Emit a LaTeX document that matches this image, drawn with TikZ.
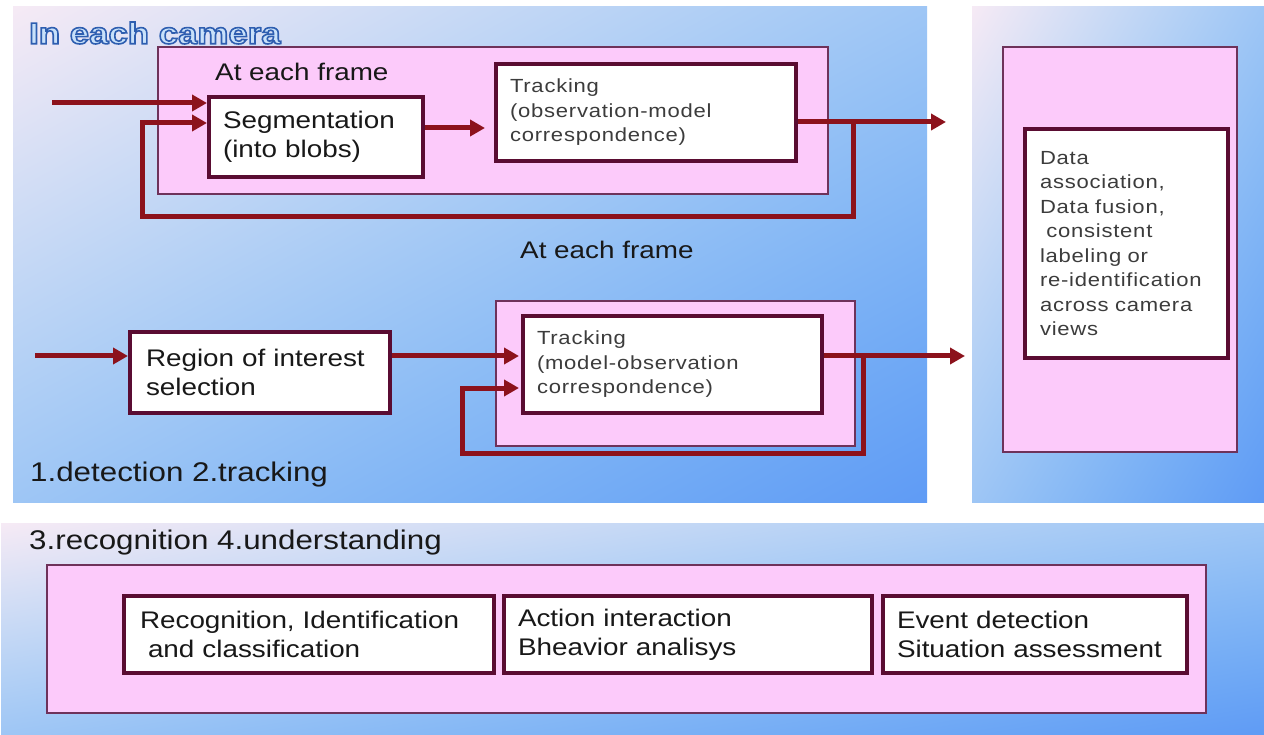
\documentclass[tikz,border=0pt]{standalone}
\usepackage{fontspec}
\setmainfont{Liberation Sans}[FakeStretch=1.16]
\newfontfamily\thinfont{Liberation Sans}[FakeStretch=1.16, LetterSpace=4]
\usetikzlibrary{arrows.meta}

\definecolor{pinkfill}{RGB}{252,202,250}
\definecolor{pinkline}{RGB}{110,50,90}
\definecolor{boxline}{RGB}{90,12,50}
\definecolor{flowred}{RGB}{140,18,28}
\definecolor{ink}{RGB}{24,24,24}
\definecolor{softink}{RGB}{60,60,60}
\definecolor{titlefill}{RGB}{200,225,250}

% outlined lettering: fill and stroke the glyphs (stroke in a mid blue)
\newcommand{\outlined}[1]{%
  \special{pdf:literal direct 2 Tr 1.6 w 0.18 0.37 0.69 RG}#1\special{pdf:literal direct 0 Tr}}

% diagonal background: pale lavender at the top-left corner,
% light blue along the anti-diagonal, deep blue at the bottom-right corner
\pgfdeclarefunctionalshading{diagsky}{\pgfpoint{-50bp}{-50bp}}{\pgfpoint{50bp}{50bp}}{}{
  sub 50 add 100 div
  dup dup mul
  2 copy 0.196 mul exch -0.788 mul add 0.965 add
  3 1 roll
  2 copy -0.052 mul exch -0.258 mul add 0.918 add
  3 1 roll
  pop pop 0.962
}

\tikzset{
  panel/.style={shading=diagsky},
  pinkbox/.style={draw=pinkline, line width=1.2pt, fill=pinkfill, inner sep=0pt},
  stagebox/.style={draw=boxline, line width=4pt, fill=white, align=left,
    text=ink, font=\fontsize{24}{29}\selectfont},
  thinbox/.style={stagebox, text=softink, font=\thinfont\fontsize{19}{24.5}\selectfont},
  caption/.style={anchor=west, inner sep=0pt, text=ink, font=\fontsize{24}{29}\selectfont},
  bigcaption/.style={anchor=west, inner sep=0pt, text=ink, font=\fontsize{27}{32}\selectfont},
  titletext/.style={anchor=west, inner sep=0pt, text=titlefill, font=\bfseries\fontsize{30}{35}\selectfont},
  flow/.style={draw=flowred, line width=5pt, line join=miter,
    -{Triangle[length=15pt,width=16pt]}, color=flowred},
}

\begin{document}
\begin{tikzpicture}[x=1pt, y=-1pt]
  \useasboundingbox (0,0) rectangle (1264,735);
  \fill[white] (0,0) rectangle (1264,735);

  % shaded panels
  \shade[panel] (13,7) rectangle (927,502);
  \shade[panel] (972,7) rectangle (1264,502);
  \shade[panel] (1,523) rectangle (1264,735);

  % outlined heading
  \node[titletext] (ttl) at (29,33) {\outlined{In each camera}};

  % pink frames
  \node[pinkbox, minimum width=670pt, minimum height=147pt] (fr1) at (493,120.5) {};
  \node[pinkbox, minimum width=359pt, minimum height=145pt] (fr2) at (675.5,373.5) {};
  \node[pinkbox, minimum width=234pt, minimum height=405pt] (fr3) at (1120,249.5) {};
  \node[pinkbox, minimum width=1159pt, minimum height=148pt] (fr4) at (626.5,639) {};

  % captions
  \node[caption] (cap1) at (215,72) {At each frame};
  \node[caption] (cap2) at (520,250) {At each frame};
  \node[bigcaption] (cap3) at (30,475) {1.detection 2.tracking};
  \node[bigcaption] (cap4) at (29,543) {3.recognition 4.understanding};

  % processing stages
  \node[stagebox, inner xsep=14pt, text width=186pt, minimum width=214pt, minimum height=80pt]
    (seg) at (316,137) {Segmentation\\(into blobs)};
  \node[thinbox, inner xsep=14pt, text width=272pt, minimum width=300pt, minimum height=97pt]
    (trk1) at (646,112.5) {Tracking\\(observation-model\\correspondence)};
  \node[stagebox, inner xsep=16pt, text width=228pt, minimum width=260pt, minimum height=81pt]
    (roi) at (260,372.5) {Region of interest\\selection};
  \node[thinbox, inner xsep=14pt, text width=271pt, minimum width=299pt, minimum height=97pt]
    (trk2) at (672.5,364.5) {Tracking\\(model-observation\\correspondence)};
  \node[thinbox, inner xsep=15pt, text width=173pt, minimum width=203pt, minimum height=229pt]
    (assoc) at (1126.5,243.5) {Data\\association,\\Data fusion,\\\ consistent\\labeling or\\re-identification\\across camera\\views};
  \node[stagebox, inner xsep=16pt, text width=338pt, minimum width=370pt, minimum height=77pt]
    (rec) at (309,634.5) {Recognition, Identification\\\ and classification};
  \node[stagebox, inner xsep=14pt, text width=340pt, minimum width=368pt, minimum height=77pt]
    (act) at (688,634.5) {Action interaction\\Bheavior analisys};
  \node[stagebox, inner xsep=14pt, text width=276pt, minimum width=304pt, minimum height=77pt]
    (evt) at (1035,634.5) {Event detection\\Situation assessment};

  % connector anchors
  \coordinate (in1) at (52,103);
  \coordinate (y123) at (0,123);
  \coordinate (y128) at (0,128);
  \coordinate (out1) at (946,122);
  \coordinate (br1) at (853,122);
  \coordinate (lp1) at (142,217);

  \coordinate (in2) at (35,356);
  \coordinate (y388) at (0,388);
  \coordinate (out2) at (965,356);
  \coordinate (br2) at (863,356);
  \coordinate (lp2) at (462,453);

  % upper chain
  \draw[flow] (in1) -- (seg.west |- in1);
  \draw[flow] (seg.east |- y128) -- ([xshift=-9pt]trk1.west |- y128);
  \draw[flow] (trk1.east |- out1) -- (out1);
  \draw[flow] (br1) |- (lp1) |- (seg.west |- y123);

  % lower chain
  \draw[flow] (in2) -- (roi.west |- in2);
  \draw[flow] (roi.east |- in2) -- ([xshift=-2pt]trk2.west |- in2);
  \draw[flow] (trk2.east |- out2) -- (out2);
  \draw[flow] (br2) |- (lp2) |- ([xshift=-2pt]trk2.west |- y388);
\end{tikzpicture}
\end{document}
